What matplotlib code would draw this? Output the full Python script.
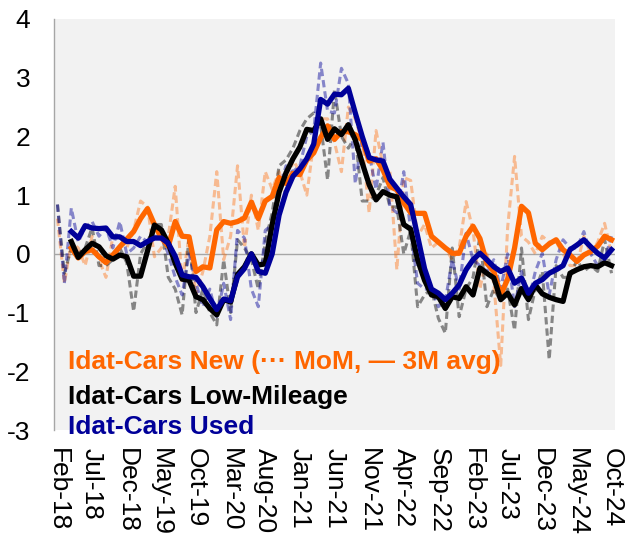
import numpy as np
import matplotlib.pyplot as plt

plt.rcParams['font.family'] = ['Liberation Sans', 'DejaVu Sans']

# monthly tick labels every 5 months, Feb-18 .. Oct-24 (81 months)
tick_labels = ["Feb-18", "Jul-18", "Dec-18", "May-19", "Oct-19", "Mar-20", "Aug-20",
               "Jan-21", "Jun-21", "Nov-21", "Apr-22", "Sep-22", "Feb-23", "Jul-23",
               "Dec-23", "May-24", "Oct-24"]
n_months = 81

nan = np.nan

# Idat-Cars New
new_mom = [0.6, -0.5, 0.2, 0.1, -0.2, 0.3, -0.1, -0.4, 0.3, 0.3,
           0.1, 0.4, 0.9, 0.8, -0.05, 0.1, 0.3, 1.15, -0.5, 0.3,
           -0.7, -0.3, 0.3, 1.4, -0.1, 0.3, 1.5, 0.1, 1.0, 0.4,
           1.4, 1.1, 1.4, 1.0, 1.6, 1.4, 1.0, 1.9, 2.3, 2.3,
           1.9, 1.4, 2.5, 2.3, 1.9, 0.7, 2.1, 1.5, 1.4, -0.27,
           1.3, 1.25, 0.3, 0.5, 0.1, 0.2, 0.1, -0.1, 0.1, 0.89,
           0.4, -0.6, 0.0, -0.5, -1.9, 0.45, 1.66, 0.3, 0.2, 0.0,
           0.3, 0.2, 0.2, 0.0, -0.2, -0.2, 0.3, 0.0, 0.2, 0.52,
           0.0]
new_3m = [nan, nan, 0.1, -0.07, 0.04, 0.07, -0.05, -0.15, -0.02, 0.12,
          0.25, 0.38, 0.6, 0.77, 0.5, 0.27, 0.13, 0.55, 0.3, 0.29,
          -0.3, -0.22, -0.24, 0.41, 0.55, 0.52, 0.55, 0.61, 0.88, 0.6,
          0.9, 0.98, 1.3, 1.2, 1.37, 1.35, 1.6, 1.72, 1.98, 2.18,
          1.95, 2.08, 2.08, 2.03, 1.94, 1.58, 1.62, 1.43, 1.15, 1.09,
          0.87, 0.7, 0.69, 0.69, 0.3, 0.2, 0.1, 0.01, 0.01, 0.3,
          0.47, 0.26, -0.16, -0.3, -0.7, -0.43, 0.1, 0.81, 0.7, 0.18,
          0.07, 0.17, 0.24, 0.07, -0.02, -0.13, -0.02, 0.04, 0.13, 0.3,
          0.24]

# Idat-Cars Low-Mileage
low_mom = [0.84, -0.33, 0.1, 0.0, 0.1, 0.45, -0.2, -0.2, -0.1, 0.1,
           -0.15, -0.98, 0.0, 0.2, 0.5, 0.5, -0.4, -0.6, -1.04, 0.3,
           -1.0, -0.6, -1.0, -1.21, -0.1, -1.0, 0.24, 0.1, -0.1, -0.6,
           0.2, 0.7, 1.5, 1.6, 1.8, 2.1, 2.3, 2.4, 2.2, 1.26,
           2.8, 2.0, 1.8, 2.0, 0.9, 0.9, 1.0, 1.3, 0.8, 0.8,
           0.0, 0.4, -0.9, -0.7, -0.6, -1.1, -1.35, 0.1, -1.07, -0.6,
           -0.4, 0.3, -0.9, -0.6, -0.8, -0.6, -1.3, 0.1, -1.12, -0.6,
           -0.3, -1.8, -0.2, -0.4, -0.4, -0.1, -0.3, -0.2, -0.3, 0.24,
           -0.33]
low_3m = [nan, nan, 0.21, -0.06, 0.07, 0.18, 0.12, -0.03, -0.09, -0.02,
          -0.05, -0.38, -0.38, 0.05, 0.49, 0.41, 0.18, -0.16, -0.43, -0.45,
          -0.73, -0.78, -0.93, -1.04, -0.78, -0.82, -0.35, -0.22, 0.0, -0.19,
          -0.17, 0.5, 1.05, 1.38, 1.62, 1.82, 2.12, 2.1, 2.3, 1.95,
          2.13, 2.03, 2.2, 1.94, 1.55, 1.18, 0.92, 1.06, 1.0, 0.97,
          0.5, 0.42, -0.1, -0.45, -0.7, -0.73, -0.93, -0.73, -0.76, -0.56,
          -0.7, -0.24, -0.33, -0.41, -0.78, -0.67, -0.87, -0.59, -0.78, -0.53,
          -0.68, -0.74, -0.78, -0.81, -0.33, -0.27, -0.22, -0.2, -0.22, -0.15,
          -0.2]

# Idat-Cars Used
used_mom = [0.84, -0.5, 0.78, 0.2, 0.45, 0.55, 0.3, 0.45, 0.1, 0.55,
            0.0, 0.1, 0.3, 0.2, 0.3, 0.3, 0.0, -0.4, -0.7, 0.0,
            -0.5, -0.9, -0.6, -1.07, -0.5, -1.12, 0.4, 0.27, -0.6, -0.9,
            0.4, 0.5, 1.1, 1.5, 1.4, 1.5, 2.0, 2.1, 3.25, 2.43,
            2.4, 3.16, 2.9, 1.2, 2.0, 1.7, 1.1, 1.9, 0.8, 0.7,
            1.4, 0.4, -0.5, -0.6, -0.6, -0.9, -0.8, -0.1, -0.6, 0.35,
            -0.1, -0.2, -0.3, -0.1, -0.6, 0.0, -0.9, -0.3, -0.8, -0.3,
            0.01, -0.7, -0.1, 0.24, 0.1, 0.1, 0.38, 0.0, -0.2, -0.1,
            0.3]
used_3m = [nan, nan, 0.38, 0.27, 0.48, 0.44, 0.43, 0.44, 0.29, 0.29,
           0.21, 0.21, 0.14, 0.21, 0.27, 0.27, 0.18, -0.04, -0.36, -0.39,
           -0.4, -0.56, -0.76, -0.95, -0.77, -0.8, -0.39, -0.25, 0.0, -0.3,
           -0.33, 0.0, 0.66, 1.05, 1.32, 1.45, 1.62, 1.87, 2.63, 2.55,
           2.72, 2.71, 2.82, 2.4, 2.0, 1.64, 1.6, 1.58, 1.27, 1.12,
           0.97, 0.84, 0.3, -0.25, -0.6, -0.67, -0.78, -0.67, -0.53, -0.27,
           -0.1, 0.01, -0.1, -0.22, -0.3, -0.24, -0.5, -0.41, -0.67, -0.5,
           -0.44, -0.33, -0.27, -0.2, 0.07, 0.15, 0.24, 0.12, 0.01, -0.07,
           0.07]

x = np.arange(n_months)

fig = plt.figure(figsize=(6.25, 5.38), dpi=100)
ax = fig.add_axes([54 / 625, 108 / 538, 561 / 625, 411 / 538])
ax.set_facecolor('#F2F2F2')

dash = (0, (2.4, 1.3))
ax.plot(x, new_mom, color='#FF6600', alpha=0.4, lw=2.2, ls=dash)
ax.plot(x, low_mom, color='#000000', alpha=0.45, lw=2.2, ls=dash)
ax.plot(x, used_mom, color='#000099', alpha=0.45, lw=2.2, ls=dash)
ax.plot(x, new_3m, color='#FF6600', lw=3.8)
ax.plot(x, low_3m, color='#000000', lw=3.8)
ax.plot(x, used_3m, color='#000099', lw=3.8)

ax.axhline(0, color='#A6A6A6', lw=1, zorder=1)
ax.set_xlim(-0.5, 80.5)
ax.set_ylim(-3, 4)
for s in ['top', 'right', 'bottom']:
    ax.spines[s].set_visible(False)
ax.spines['left'].set_color('#A6A6A6')
ax.spines['left'].set_linewidth(1)

ax.set_xticks(np.arange(0, n_months, 5))
ax.set_xticklabels(tick_labels, rotation=-90, fontsize=19)
ax.set_yticks(range(-3, 5))
ax.set_yticklabels([str(v) for v in range(-3, 5)], fontsize=19)
ax.tick_params(axis='both', length=0)
ax.tick_params(axis='y', pad=17)
ax.tick_params(axis='x', pad=13)

ax.text(0.025, 0.165, "Idat-Cars New (\u00b7\u00b7\u00b7 MoM, \u2014 3M avg)", transform=ax.transAxes,
        color='#FF6600', fontsize=19, fontweight='bold', va='center')
ax.text(0.025, 0.080, "Idat-Cars Low-Mileage", transform=ax.transAxes,
        color='#000000', fontsize=19, fontweight='bold', va='center')
ax.text(0.025, 0.007, "Idat-Cars Used", transform=ax.transAxes,
        color='#000099', fontsize=19, fontweight='bold', va='center')

fig.savefig('out.png', dpi=100)
